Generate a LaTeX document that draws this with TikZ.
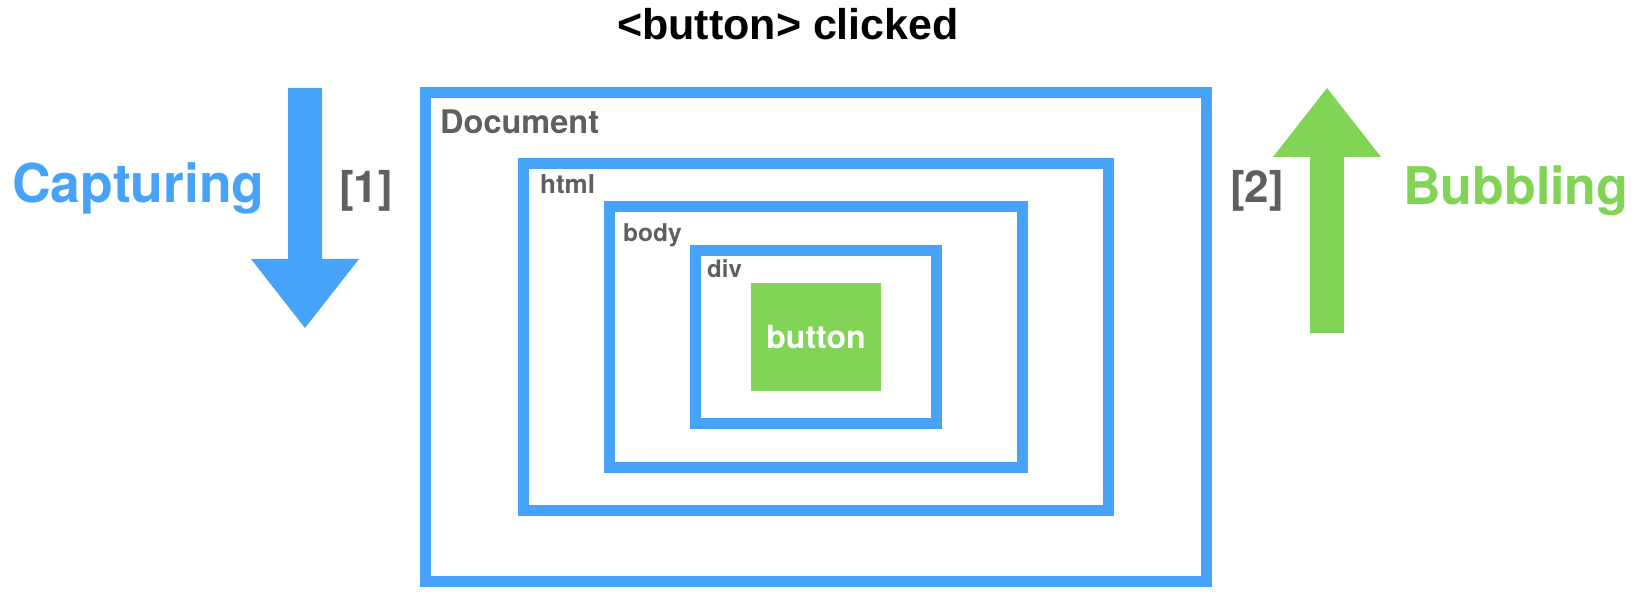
\documentclass[tikz,border=0pt]{standalone}
\usepackage{fontspec}
\setmainfont{TeX Gyre Heros}
\newfontfamily\titlefont{Liberation Sans}
\definecolor{evblue}{HTML}{47A2F9}
\definecolor{evgreen}{HTML}{82D456}
\definecolor{evgray}{HTML}{5F5F5F}
\tikzset{
  layerbox/.style={rectangle, draw=evblue, line width=11pt, inner sep=0pt},
  layername/.style={anchor=base west, inner sep=0pt, text=evgray, font=\bfseries\fontsize{#1}{#1}\selectfont},
  phase/.style={anchor=base west, inner sep=0pt, font=\bfseries\fontsize{#1}{#1}\selectfont}
}
\begin{document}
\begin{tikzpicture}[x=1pt,y=-1pt]
\useasboundingbox (0,0) rectangle (1642,596);

\node [anchor=base, inner sep=0pt, font=\titlefont\bfseries\fontsize{43}{50}\selectfont] (title) at (788,40) {<button> clicked};

\node [layerbox, minimum width=781pt, minimum height=489pt] (document) at (816,337) {};
\node [layerbox, minimum width=585pt, minimum height=347pt] (html) at (816,337) {};
\node [layerbox, minimum width=413pt, minimum height=261pt] (body) at (816,337) {};
\node [layerbox, minimum width=241pt, minimum height=173pt] (div) at (816,337) {};
\node [rectangle, fill=evgreen, minimum width=130pt, minimum height=108pt, text=white, font=\bfseries\fontsize{32}{38}\selectfont] (button) at (816,337) {button};

\node [layername=32.5] (documentlabel) at (440,134) {Document};
\node [layername=26] (htmllabel) at (540,194) {html};
\node [layername=24.5] (bodylabel) at (623,242) {body};
\node [layername=24] (divlabel) at (707,277) {div};

% capturing
\fill [evblue] (288,88) -- (322,88) -- (322,259) -- (359,259) -- (305,328) -- (251,259) -- (288,259) -- cycle;
\node [phase=53.5, text=evblue] (capturing) at (12,203) {Capturing};
\node [anchor=base west, inner sep=0pt, text=evgray, font=\bfseries\fontsize{44}{50}\selectfont] (one) at (339,203) {[1]};

% bubbling
\fill [evgreen] (1310,333) -- (1344,333) -- (1344,157) -- (1381,157) -- (1327,88) -- (1273,157) -- (1310,157) -- cycle;
\node [phase=52, text=evgreen] (bubbling) at (1403,205) {Bubbling};
\node [anchor=base west, inner sep=0pt, text=evgray, font=\bfseries\fontsize{44}{50}\selectfont] (two) at (1230,203) {[2]};
\end{tikzpicture}
\end{document}
